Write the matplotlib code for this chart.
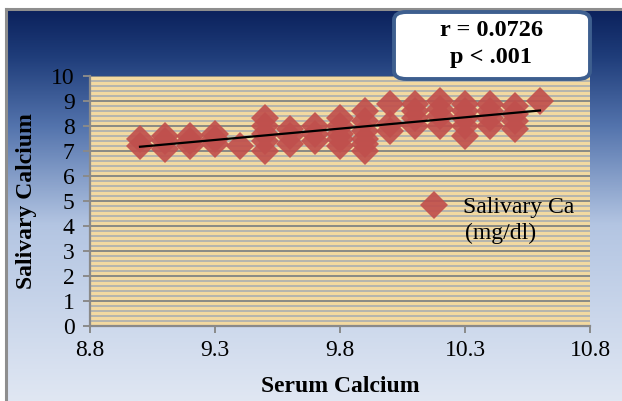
import numpy as np
import matplotlib
matplotlib.use("Agg")
import matplotlib.pyplot as plt
from matplotlib.colors import LinearSegmentedColormap
from matplotlib.patches import FancyBboxPatch

# valores
serum_x = [9.0, 9.0,
           9.1, 9.1, 9.1,
           9.2, 9.2, 9.2,
           9.3, 9.3, 9.3,
           9.4,
           9.5, 9.5, 9.5, 9.5, 9.5,
           9.6, 9.6, 9.6,
           9.7, 9.7, 9.7,
           9.8, 9.8, 9.8, 9.8, 9.8,
           9.9, 9.9, 9.9, 9.9, 9.9, 9.9,
           10.0, 10.0, 10.0,
           10.1, 10.1, 10.1, 10.1,
           10.2, 10.2, 10.2, 10.2,
           10.3, 10.3, 10.3, 10.3, 10.3,
           10.4, 10.4, 10.4, 10.4,
           10.5, 10.5, 10.5, 10.5,
           10.6]
saliva_y = [7.5, 7.2,
            7.6, 7.4, 7.1,
            7.6, 7.4, 7.2,
            7.7, 7.5, 7.3,
            7.2,
            8.3, 8.0, 7.7, 7.4, 7.0,
            7.9, 7.6, 7.3,
            8.0, 7.7, 7.4,
            8.3, 8.0, 7.7, 7.5, 7.2,
            8.6, 8.2, 7.8, 7.5, 7.3, 7.0,
            8.9, 8.1, 7.8,
            8.9, 8.6, 8.3, 8.0,
            9.0, 8.7, 8.4, 8.0,
            8.9, 8.6, 8.3, 8.0, 7.6,
            8.9, 8.6, 8.3, 8.0,
            8.8, 8.5, 8.2, 7.9,
            9.0]
trend_x = [9.0, 10.6]
trend_y = [7.17, 8.62]
x_ticks = [8.8, 9.3, 9.8, 10.3, 10.8]
y_ticks = list(range(0, 11))

plt.rcParams['font.family'] = ['Liberation Serif', 'DejaVu Serif']

fig = plt.figure(figsize=(6.22, 4.01), dpi=100)

# fondo degradado azul
bg = fig.add_axes([6/622, 0, 1 - 6/622, 392/401])
cmap = LinearSegmentedColormap.from_list(
    "fondo", [(0, "#0b215c"), (0.12, "#1f3d7a"), (0.3, "#5474ad"),
              (0.55, "#b3c5e2"), (1, "#e0e7f3")])
grad = np.linspace(0, 1, 256).reshape(-1, 1)
bg.imshow(grad, aspect="auto", cmap=cmap, extent=[0, 1, 0, 1])
bg.set_axis_off()
fig.add_artist(plt.Line2D([6/622, 6/622], [0, 392/401], color="#8e8e8e", lw=2.2))
fig.add_artist(plt.Line2D([6/622, 1], [392/401, 392/401], color="#8e8e8e", lw=2.2))

ax = fig.add_axes([90/622, 75/401, 500/622, 250/401])
ax.set_facecolor("#f3d9a0")
ax.set_xlim(8.8, 10.8)
ax.set_ylim(0, 10)
ax.set_xticks(x_ticks)
ax.set_xticklabels(["8.8", "9.3", "9.8", "10.3", "10.8"])
ax.set_yticks(y_ticks)
ax.set_yticks(np.arange(0, 10.01, 0.2), minor=True)
ax.yaxis.grid(True, which="minor", color="#b5b5ae", lw=1.4)
ax.yaxis.grid(True, which="major", color="#8a8a86", lw=1.4)
ax.tick_params(axis="y", which="minor", length=0)
ax.tick_params(which="major", length=5, width=1.4, color="#8a8a8a",
               labelsize=17)
ax.tick_params(axis="y", pad=6)
ax.tick_params(axis="x", pad=5)
ax.set_axisbelow(True)
for s in ["top", "right"]:
    ax.spines[s].set_visible(False)
for s in ["left", "bottom"]:
    ax.spines[s].set_color("#8a8a8a")
    ax.spines[s].set_linewidth(1.6)

ax.plot(serum_x, saliva_y, linestyle="none", marker="D", markersize=14.5,
        color="#c0504d", alpha=0.92, markeredgewidth=0, label="Salivary Ca")
ax.plot(trend_x, trend_y, color="black", lw=1.6)

leg = ax.legend(loc="center left", bbox_to_anchor=(0.64, 0.476), frameon=False,
                fontsize=17, handlelength=1.0, handletextpad=0.75, borderpad=0)
ax.text(0.75, 0.37, "(mg/dl)", transform=ax.transAxes, fontsize=17,
        ha="left", va="center")

ax.set_xlabel("Serum Calcium", fontsize=17, fontweight="bold", labelpad=11)
ax.set_ylabel("Salivary Calcium", fontsize=17, fontweight="bold", labelpad=10)

# cuadro de estadísticos
box = FancyBboxPatch((394/622, 322/401), 196/622, 67/401,
                     boxstyle="round,pad=0,rounding_size=0.02",
                     transform=fig.transFigure, facecolor="white",
                     edgecolor="#3e5f8f", lw=2.8, zorder=5)
fig.add_artist(box)
fig.text(491/622, 371/401, "r = 0.0726", ha="center", va="center",
         fontsize=17.5, fontweight="bold", zorder=6)
fig.text(491/622, 344/401, "p < .001", ha="center", va="center",
         fontsize=17.5, fontweight="bold", zorder=6)

fig.savefig("out.png", dpi=100)
